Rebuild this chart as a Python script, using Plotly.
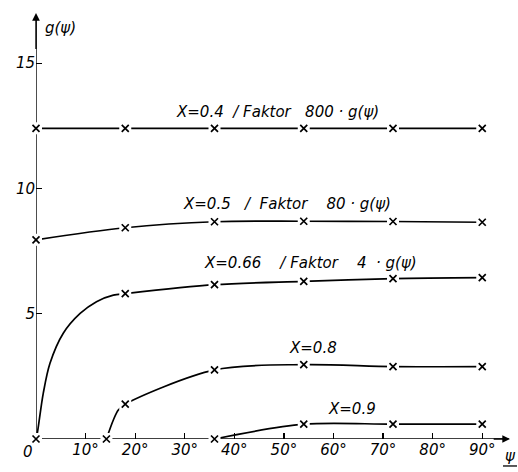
import plotly.graph_objects as go

# ---------------- data ----------------
psi_04 = [0, 18, 36, 54, 72, 90]
g_04 = [12.4, 12.4, 12.4, 12.4, 12.4, 12.4]

psi_05 = [0, 18, 36, 54, 72, 90]
g_05 = [7.95, 8.43, 8.67, 8.69, 8.68, 8.65]

psi_066 = [0, 18, 36, 54, 72, 90]
g_066 = [0.0, 5.8, 6.16, 6.29, 6.4, 6.44]
# readings along the hand-drawn curve between the first two markers
curve_psi_066 = [0, 0.26, 1.47, 2.82, 5.5, 8.9, 12.2, 15.6, 18]
curve_g_066 = [0.0, 0.23, 1.83, 3.02, 4.22, 5.01, 5.48, 5.74, 5.8]

psi_08 = [14.2, 18, 36, 54, 72, 90]
g_08 = [0.0, 1.39, 2.76, 2.97, 2.89, 2.89]
curve_psi_08 = [14.2, 15.6, 16.6, 18]
curve_g_08 = [0.0, 0.76, 1.16, 1.39]

psi_09 = [36, 54, 72, 90]
g_09 = [0.0, 0.59, 0.59, 0.59]

x_tickvals = [10, 20, 30, 40, 50, 60, 70, 80, 90]
x_ticktext = ["10°", "20°", "30°", "40°", "50°", "60°", "70°", "80°", "90°"]
y_tickvals = [5, 10, 15]
y_ticktext = ["5", "10", "15"]

NB = "\u00a0"
labels = [
    (f"X=0.4{NB}{NB}/{NB}Faktor{NB}{NB}{NB}800 · g(ψ)", 48.7, 13.04),
    (f"X=0.5{NB}{NB}{NB}/{NB}{NB}Faktor{NB}{NB}{NB}{NB}80 · g(ψ)", 50.6, 9.37),
    (f"X=0.66{NB}{NB}{NB}{NB}/{NB}Faktor{NB}{NB}{NB}{NB}4{NB}{NB}· g(ψ)", 55.3, 7.02),
    ("X=0.8", 55.9, 3.63),
    ("X=0.9", 63.7, 1.2),
]

# ---------------- styling ----------------
FONT = dict(family="DejaVu Sans, Liberation Sans, sans-serif", size=15, color="black",
            style="italic")
INK = "black"
X_MAX = 96
Y_MAX = 17.2

fig = go.Figure()

# axis lines as traces so the marker gaps can cut them
fig.add_trace(go.Scatter(x=[0, 95.4], y=[0, 0], mode="lines",
                         line=dict(color=INK, width=1.4), cliponaxis=False,
                         hoverinfo="skip", showlegend=False))
fig.add_trace(go.Scatter(x=[0, 0], y=[0, 16.8], mode="lines",
                         line=dict(color=INK, width=1.4), cliponaxis=False,
                         hoverinfo="skip", showlegend=False))


def merged(mx, my, cx, cy):
    pts = dict(zip(mx, my))
    for a, b in zip(cx, cy):
        pts[a] = b
    ks = sorted(pts)
    return ks, [pts[k] for k in ks]


series = [
    (psi_04, g_04, psi_04, g_04),
    (psi_05, g_05, psi_05, g_05),
    (psi_066, g_066, *merged(psi_066, g_066, curve_psi_066, curve_g_066)),
    (psi_08, g_08, *merged(psi_08, g_08, curve_psi_08, curve_g_08)),
    (psi_09, g_09, psi_09, g_09),
]

for mx, my, lx, ly in series:
    fig.add_trace(go.Scatter(x=lx, y=ly, mode="lines",
                             line=dict(color=INK, width=1.7, shape="spline", smoothing=0.9),
                             cliponaxis=False, hoverinfo="skip", showlegend=False))

# white gaps around the crosses
for mx, my, lx, ly in series:
    fig.add_trace(go.Scatter(x=mx, y=my, mode="markers",
                             marker=dict(symbol="square", size=12, color="white",
                                         line=dict(width=0)),
                             cliponaxis=False, hoverinfo="skip", showlegend=False))
# crosses
for mx, my, lx, ly in series:
    fig.add_trace(go.Scatter(x=mx, y=my, mode="markers",
                             marker=dict(symbol="x-thin-open", size=7, color=INK,
                                         line=dict(width=1.7, color=INK)),
                             cliponaxis=False, hoverinfo="skip", showlegend=False))

annotations = []
for text, xx, yy in labels:
    annotations.append(dict(x=xx, y=yy, xref="x", yref="y", text=text,
                            showarrow=False, font=FONT, xanchor="center", yanchor="middle"))

# arrow heads of the axes
annotations.append(dict(x=95.6, y=0, ax=92, ay=0, xref="x", yref="y", axref="x", ayref="y",
                        text="", showarrow=True, arrowhead=2, arrowsize=1.1,
                        arrowwidth=1.4, arrowcolor=INK))
annotations.append(dict(x=0, y=17.0, ax=0, ay=15.5, xref="x", yref="y", axref="x", ayref="y",
                        text="", showarrow=True, arrowhead=2, arrowsize=1.1,
                        arrowwidth=1.4, arrowcolor=INK))

# axis titles and origin label
annotations.append(dict(x=1.4, y=16.39, xref="x", yref="y", text="g(ψ)", showarrow=False,
                        font=FONT, xanchor="left", yanchor="middle"))
annotations.append(dict(x=-0.0168, y=-0.030, xref="paper", yref="paper", text="0",
                        showarrow=False, font=FONT, xanchor="center", yanchor="middle"))
annotations.append(dict(x=0.9958, y=-0.040, xref="paper", yref="paper", text="ψ",
                        showarrow=False, font=FONT, xanchor="center", yanchor="middle"))
annotations.append(dict(x=0.9958, y=-0.070, xref="paper", yref="paper", text="2",
                        showarrow=False, font=FONT, xanchor="center", yanchor="top"))

fig.update_layout(
    width=518, height=472,
    margin=dict(l=36, r=6, t=8, b=33, autoexpand=False),
    paper_bgcolor="white", plot_bgcolor="white",
    showlegend=False,
    font=FONT,
    annotations=annotations,
    shapes=[dict(type="line", xref="paper", yref="paper", x0=0.981, x1=1.0105,
                 y0=-0.0626, y1=-0.0626, line=dict(color=INK, width=1.3))],
    xaxis=dict(range=[0, X_MAX], showgrid=False, zeroline=False, showline=False,
               automargin=False, fixedrange=True,
               ticks="inside", ticklen=6, tickwidth=1.2, tickcolor=INK,
               tickvals=x_tickvals, ticktext=x_ticktext, tickfont=FONT),
    yaxis=dict(range=[0, Y_MAX], showgrid=False, zeroline=False, showline=False,
               automargin=False, fixedrange=True,
               ticks="inside", ticklen=6, tickwidth=1.2, tickcolor=INK,
               tickvals=y_tickvals, ticktext=y_ticktext, tickfont=FONT),
)

fig.write_html("out.html",
               config={"displayModeBar": False, "staticPlot": True},
               post_script="document.body.style.margin='0px';document.body.style.overflow='hidden';")
